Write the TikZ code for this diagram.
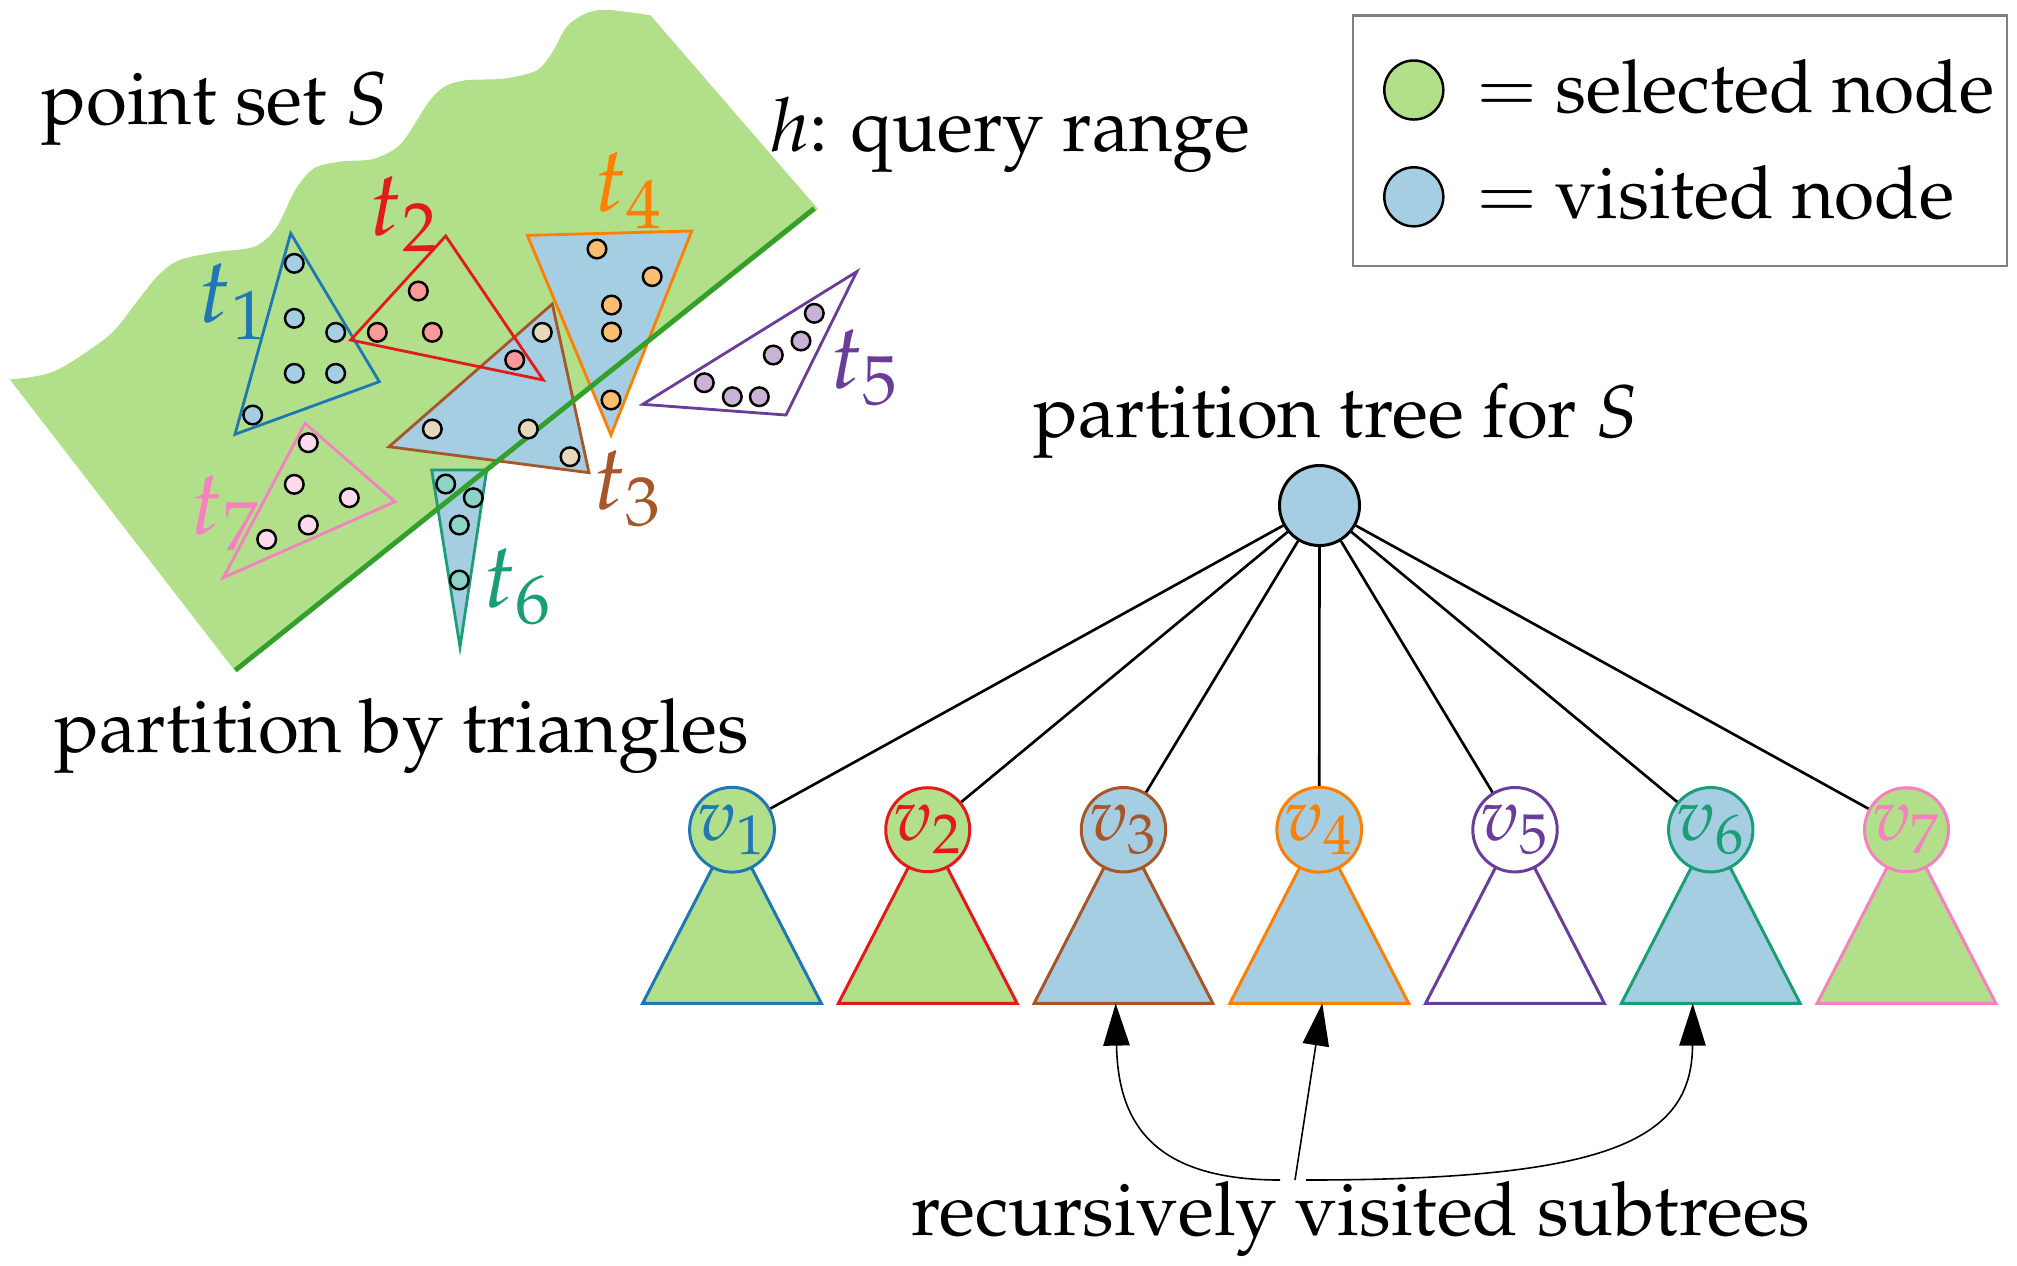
\documentclass[tikz,border=0pt]{standalone}
\usepackage[T1]{fontenc}
\usepackage{mathpazo}
\usepackage{tikz}
\usetikzlibrary{arrows.meta,positioning}

\definecolor{selgreen}{HTML}{B2DF8A}
\definecolor{visblue}{HTML}{A6CEE3}
\definecolor{hgreen}{HTML}{33A02C}
\definecolor{cA}{HTML}{1F78B4}
\definecolor{cB}{HTML}{E31A1C}
\definecolor{cC}{HTML}{A65628}
\definecolor{cD}{HTML}{FF7F00}
\definecolor{cE}{HTML}{6A3D9A}
\definecolor{cF}{HTML}{1B9E77}
\definecolor{cG}{HTML}{F781BF}
\definecolor{pA}{HTML}{A6CEE3}
\definecolor{pB}{HTML}{FB9A99}
\definecolor{pC}{HTML}{E5D8BD}
\definecolor{pD}{HTML}{FDBF6F}
\definecolor{pE}{HTML}{CAB2D6}
\definecolor{pF}{HTML}{8DD3C7}
\definecolor{pG}{HTML}{FDDAEC}

\tikzset{
  pt/.style={draw=black, line width=0.7pt},
  tri/.style={line width=0.8pt, line join=miter},
  txt/.style={font=\fontsize{21.2}{25}\selectfont, inner sep=0pt, anchor=base west},
  tlab/.style={font=\fontsize{26}{30}\selectfont, inner sep=0pt, anchor=base west},
  tnode/.style={circle, minimum size=0.8cm, inner sep=0pt, line width=0.85pt,
    font=\fontsize{21}{24}\selectfont},
  visarrow/.style={line width=0.45pt, -{Triangle[length=12pt,width=7.5pt]}},
}

\begin{document}
\begin{tikzpicture}[x=0.01cm, y=-0.01cm]
  \useasboundingbox (0,0) rectangle (2017,1265);

  % point set and query range
  \fill[selgreen] plot[smooth] coordinates {(9.8,379.4) (54.2,371.3) (108.4,336)
      (135.5,303.5) (157.2,276.4) (178.9,260.2) (216.8,252) (254.7,246.6)
      (276.4,227.6) (295.4,189.7) (314.4,168) (341.5,161.5) (374,158.8)
      (401,143.6) (428,103) (444.4,86.7) (466,80.2) (504,78.6) (536.6,70.5)
      (552.8,51.5) (566.4,27) (585.4,13.6) (607,9.8) (650.4,15.2)}
    -- (818,209) -- (235.8,672) -- cycle;

  % triangles
  \draw[tri, draw=cC, fill=visblue] (552.3,304) -- (389,446.7) -- (589,472.7) -- cycle;
  \draw[tri, draw=cD, fill=visblue] (527.4,235.4) -- (691.7,231) -- (611,435) -- cycle;
  \draw[tri, draw=cF, fill=visblue] (431.7,470) -- (486.7,470) -- (460,647) -- cycle;
  \draw[tri, draw=cA] (290.7,233.3) -- (379.3,381.7) -- (235,434.3) -- cycle;
  \draw[tri, draw=cB] (350.7,340) -- (445.7,236) -- (543.3,380) -- cycle;
  \draw[tri, draw=cE] (642.7,404.3) -- (856.7,271.7) -- (786,415) -- cycle;
  \draw[tri, draw=cG] (305,423.3) -- (395,501.7) -- (223.3,577.7) -- cycle;

  \draw[hgreen, line width=1.4pt] (814.3,208.4) -- (235.4,670.2);

  % points
  \foreach \x/\y in {294.3/263.3, 294.3/318.3, 335.7/332.3, 294.3/373.3, 335.7/373.3, 252.7/415}
    \filldraw[pt, fill=pA] (\x,\y) circle (0.093cm);
  \foreach \x/\y in {377.3/332.3, 418.3/291, 432.3/332.3, 514.7/360}
    \filldraw[pt, fill=pB] (\x,\y) circle (0.093cm);
  \foreach \x/\y in {542.3/332.3, 432.3/429, 528.3/429, 570/456.7}
    \filldraw[pt, fill=pC] (\x,\y) circle (0.093cm);
  \foreach \x/\y in {597/249, 652.2/276.6, 611.5/305, 611.5/332, 611/400}
    \filldraw[pt, fill=pD] (\x,\y) circle (0.093cm);
  \foreach \x/\y in {814.3/313.3, 801/341, 773.3/355, 704.3/382.7, 732.3/396.7, 759.3/396.7}
    \filldraw[pt, fill=pE] (\x,\y) circle (0.093cm);
  \foreach \x/\y in {445.7/484, 473.3/497.7, 459.3/525, 459.3/580}
    \filldraw[pt, fill=pF] (\x,\y) circle (0.093cm);
  \foreach \x/\y in {308.3/442.7, 294.3/484.3, 349.3/497.7, 308.3/525, 266.7/539.3}
    \filldraw[pt, fill=pG] (\x,\y) circle (0.093cm);

  % triangle labels
  \node[tlab, text=cA] (l1) at (198,322) {$t_1$};
  \node[tlab, text=cB] (l2) at (368.6,235.8) {$t_2$};
  \node[tlab, text=cC] (l3) at (592.4,509.5) {$t_3$};
  \node[tlab, text=cD] (l4) at (593.5,211) {$t_4$};
  \node[tlab, text=cE] (l5) at (829.3,388) {$t_5$};
  \node[tlab, text=cF] (l6) at (482.4,607) {$t_6$};
  \node[tlab, text=cG] (l7) at (189.7,534) {$t_7$};

  \node[txt] (pset) at (41,124.8) {point set $S$};
  \node[txt] (qrange) at (769,151.8) {$h$: query range};
  \node[txt] (bytri) at (54,752.5) {partition by triangles};
  \node[txt] (ptree) at (1033,437.4) {partition tree for $S$};

  % legend
  \draw[gray, line width=0.7pt] (1353,15.4) rectangle (2007,266);
  \node[circle, draw, fill=selgreen, line width=0.7pt, minimum size=0.59cm] (lg1) at (1413.8,90) {};
  \node[circle, draw, fill=visblue, line width=0.7pt, minimum size=0.59cm] (lg2) at (1413.8,196.8) {};
  \node[txt, font=\fontsize{20.8}{25}\selectfont] (lt1) at (1475.5,112) {$=$ selected node};
  \node[txt, font=\fontsize{20.8}{25}\selectfont] (lt2) at (1475.5,218.7) {$=$ visited node};

  % tree
  \node[tnode, draw=black, fill=visblue] (root) at (1319.5,505.5) {};
  \foreach \i/\c/\f [count=\k from 0] in {1/cA/selgreen, 2/cB/selgreen, 3/cC/visblue,
      4/cD/visblue, 5/cE/white, 6/cF/visblue, 7/cG/selgreen} {
    \pgfmathsetmacro\xx{732+195.75*\k}
    \draw[line width=0.85pt, draw=\c, fill=\f] (\xx,829.7) -- (\xx-89.4,1003.4)
      -- (\xx+89.4,1003.4) -- cycle;
    \coordinate (b\i) at (\xx,1003.4);
    \node[tnode, draw=\c, fill=\f, text=\c] (v\i) at (\xx,829.7) {$v_{\i}$};
    \draw[line width=0.75pt] (root) -- (v\i);
  }

  % arrows to visited subtrees
  \node[txt] (rec) at (910.8,1235) {recursively visited subtrees};
  \coordinate (s1) at (1280,1180);
  \coordinate (s2) at (1295,1180);
  \coordinate (s3) at (1306,1180);
  \draw[visarrow] (s1) .. controls (1150,1180) and (1118,1120) .. ([xshift=-0.078cm]b3);
  \draw[visarrow] (s2) -- ([xshift=0.03cm]b4);
  \draw[visarrow] (s3) .. controls (1610,1180) and (1692,1140) .. ([xshift=-0.18cm]b6);
\end{tikzpicture}
\end{document}
